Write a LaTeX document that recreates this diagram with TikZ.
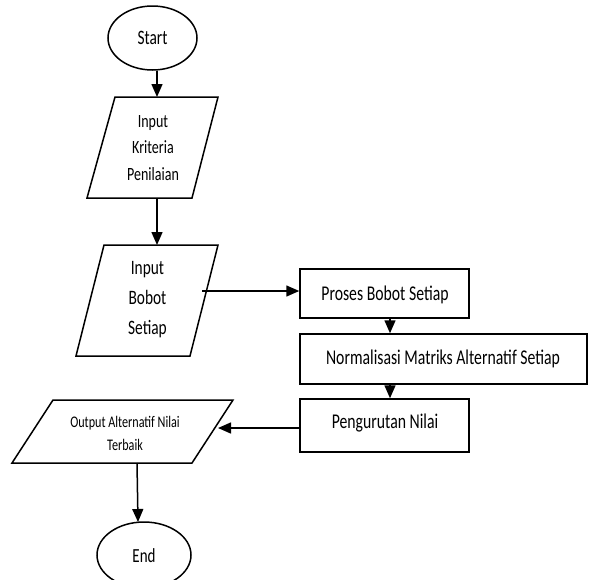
\documentclass[tikz,border=0pt]{standalone}
\usepackage{fontspec}
\setmainfont{Carlito}[FakeStretch=0.75]
\usetikzlibrary{arrows.meta,shapes.geometric}
\newcommand\fsz[2]{\fontsize{#1}{#2}\selectfont}
\tikzset{
  ln/.style={line width=1.5pt},
  arr/.style={ln,-{Triangle[length=13pt,width=11pt]}},
  procbox/.style={draw,ln,rectangle,inner sep=0pt},
  term/.style={draw,ln,ellipse,inner sep=0pt},
  para/.style={draw,ln,line join=miter},
  txt/.style={inner sep=0pt,align=center}
}
\begin{document}
\begin{tikzpicture}[x=1pt,y=-1pt]
\useasboundingbox (0,0) rectangle (594,579);
% terminals
\node[term,minimum width=89pt,minimum height=64pt] (start) at (152.5,38) {};
\node[txt,font=\fsz{20.5}{24}] (starttxt) at (152.5,38) {Start};
\node[term,minimum width=94pt,minimum height=66pt] (end) at (144,555) {};
\node[txt,font=\fsz{20}{24}] (endtxt) at (144,556) {End};
% parallelograms
\draw[para] (115,97) -- (218,97) -- (192,198) -- (87,198) -- cycle;
\node[txt,font=\fsz{18.7}{26.5}] (kri) at (153,148) {Input\\Kriteria\\Penilaian};
\draw[para] (104,245) -- (218,245) -- (190,356) -- (76,356) -- cycle;
\node[txt,font=\fsz{20.5}{30}] (bob) at (147.5,300) {Input\\Bobot\\Setiap};
\draw[para] (53,400) -- (233,400) -- (192,463) -- (12,463) -- cycle;
\node[txt,font=\fsz{16.2}{23}] (out) at (125,433) {Output Alternatif Nilai\\Terbaik};
\coordinate (p1t) at (157,97);
\coordinate (p1b) at (157,198);
\coordinate (p2t) at (157,245);
\coordinate (p2r) at (202,291);
\coordinate (p3r) at (218,428);
\coordinate (p3b) at (137,463);
% process boxes
\node[procbox,minimum width=169pt,minimum height=49pt] (pb) at (384.5,293.5) {};
\node[txt,font=\fsz{21}{24}] (pbt) at (385,295) {Proses Bobot Setiap};
\node[procbox,minimum width=287pt,minimum height=50pt] (nm) at (443.5,359) {};
\node[txt,font=\fsz{21}{24}] (nmt) at (443,359) {Normalisasi Matriks Alternatif Setiap};
\node[procbox,minimum width=169pt,minimum height=53pt] (pn) at (384.5,425.5) {};
\node[txt,font=\fsz{21}{24}] (pnt) at (385,423) {Pengurutan Nilai};
% connectors
\draw[arr] (start.south -| p1t) -- (p1t);
\draw[arr] (p1b) -- (p2t);
\draw[arr] (p2r) -- (p2r -| pb.west);
\draw[arr] ([xshift=5.5pt]pb.south) -- ([xshift=5.5pt]pb.south |- nm.north);
\draw[arr] ([xshift=5.5pt]nm.south -| pb.south) -- ([xshift=5.5pt]pn.north);
\draw[arr] (pn.west |- p3r) -- (p3r);
\draw[arr] (p3b) -- (138,522) coordinate (endtop);
\end{tikzpicture}
\end{document}
